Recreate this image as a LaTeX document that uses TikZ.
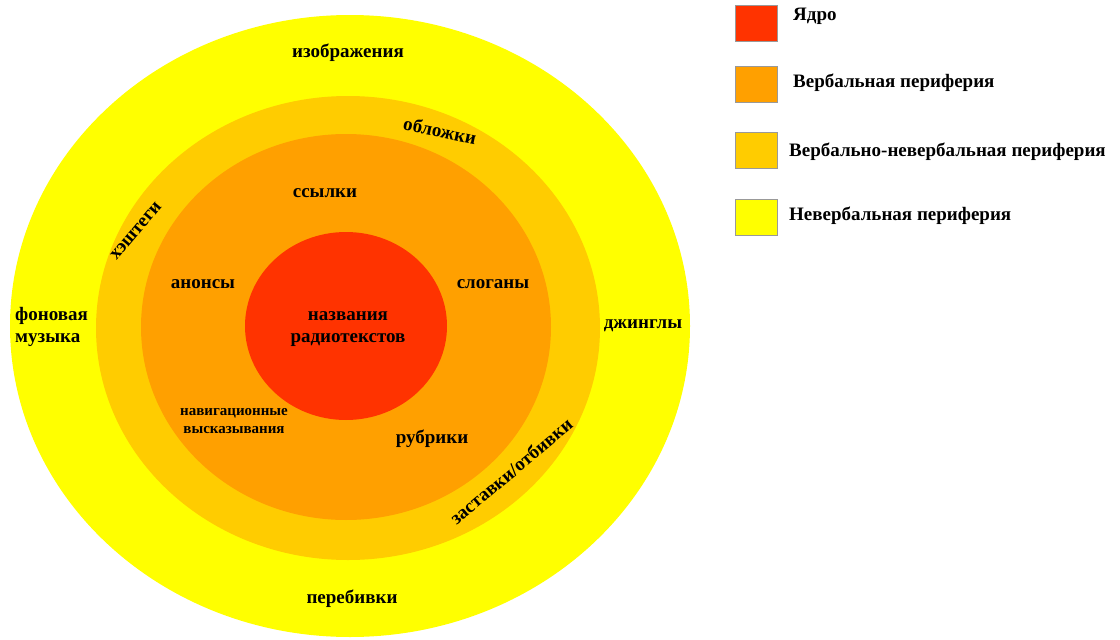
\documentclass[tikz,border=0pt]{standalone}
\usepackage{fontspec}
\setmainfont{Liberation Serif}
\usepackage{tikz}
\usetikzlibrary{positioning}
\definecolor{yadro}{HTML}{FF3300}
\definecolor{verbal}{HTML}{FFA000}
\definecolor{verbnever}{HTML}{FFCC00}
\definecolor{never}{HTML}{FFFF00}
\begin{document}
\begin{tikzpicture}[x=1pt,y=-1pt,
  lbl/.style={font=\bfseries\fontsize{19}{22}\selectfont,align=center,inner sep=0pt},
  smalllbl/.style={font=\bfseries\fontsize{15}{18}\selectfont,align=center,inner sep=0pt},
  keybox/.style={draw=gray!80,line width=0.8pt,minimum width=42pt,minimum height=36pt,inner sep=0pt},
  keytext/.style={lbl,anchor=west}]
\useasboundingbox (0,0) rectangle (1120,640);
\fill[never] (350,326) ellipse [x radius=340pt,y radius=311pt];
\fill[verbnever] (348,328) ellipse [x radius=252pt,y radius=232pt];
\fill[verbal] (346,327) ellipse [x radius=205pt,y radius=193pt];
\fill[yadro] (346,326) ellipse [x radius=101pt,y radius=94pt];
\node[lbl] (core) at (348,329) {названия\\радиотекстов};
\node[lbl] (links) at (325,193) {ссылки};
\node[lbl] (anons) at (203,284) {анонсы};
\node[lbl] (slogans) at (493,284) {слоганы};
\node[smalllbl] (navig) at (234,421) {навигационные\\высказывания};
\node[lbl] (rubr) at (432,439) {рубрики};
\node[lbl,rotate=-12] (covers) at (440,131) {обложки};
\node[lbl,rotate=50] (tags) at (136,231) {хэштеги};
\node[lbl,rotate=40] (screens) at (511,471) {заставки/отбивки};
\node[lbl] (images) at (348,53) {изображения};
\node[lbl,align=left,anchor=west] (music) at (15,327) {фоновая\\музыка};
\node[lbl] (jingles) at (643,326) {джинглы};
\node[lbl] (breaks) at (352,599) {перебивки};
\node[keybox,fill=yadro] (key1) at (756,23) {};
\node[keybox,fill=verbal] (key2) at (756,84) {};
\node[keybox,fill=verbnever] (key3) at (756,150) {};
\node[keybox,fill=never] (key4) at (756,217) {};
\node[keytext] (txt1) at (793,16) {Ядро};
\node[keytext] (txt2) at (793,83) {Вербальная периферия};
\node[keytext] (txt3) at (789,152) {Вербально-невербальная периферия};
\node[keytext] (txt4) at (789,216) {Невербальная периферия};
\end{tikzpicture}
\end{document}
